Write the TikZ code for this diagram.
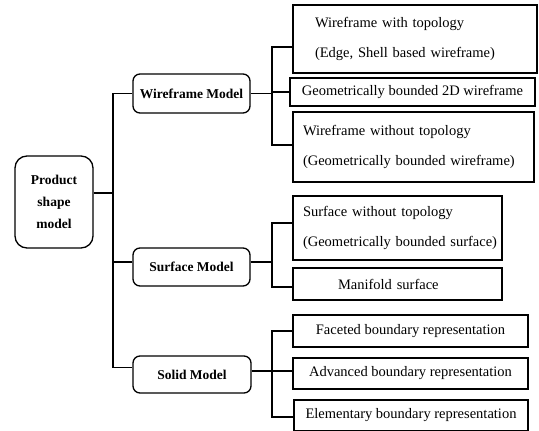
\documentclass[tikz,border=0pt]{standalone}
\usepackage{fontspec}
\setmainfont{Liberation Serif}
\begin{document}
\begin{tikzpicture}[x=1pt,y=-1pt,
  model/.style={draw, line width=1.3pt, rounded corners=7pt, inner sep=0pt,
    font=\fontsize{13.5}{22}\selectfont\bfseries, align=center},
  leaf/.style={draw, line width=1.2pt, inner ysep=0pt,
    font=\fontsize{14.5}{30}\selectfont},
  link/.style={line width=1.3pt}]
\useasboundingbox (0,0) rectangle (539,431);

% root and the three model families
\node[model, rounded corners=12pt, minimum width=78pt, minimum height=92pt] (P) at (54,202) {Product\\shape\\model};
\node[model, minimum width=117pt, minimum height=39pt] (WM) at (191.5,93.5) {Wireframe Model};
\node[model, minimum width=117pt, minimum height=38pt] (SM) at (191.5,267) {Surface Model};
\node[model, minimum width=118pt, minimum height=37pt] (SoM) at (192,374.5) {Solid Model};

% wireframe variants
\node[leaf, minimum width=244pt, minimum height=68pt, inner xsep=22pt, text width=200pt, align=left] (W1) at (415,39)
  {Wireframe with topology\\(Edge, Shell based wireframe)};
\node[leaf, minimum width=245pt, minimum height=28pt, align=center] (W2) at (412.5,92) {Geometrically bounded 2D wireframe};
\node[leaf, minimum width=241pt, minimum height=70pt, inner xsep=10pt, text width=221pt, align=left] (W3) at (413.5,147)
  {Wireframe without topology\\(Geometrically bounded wireframe)};

% surface variants
\node[leaf, minimum width=209pt, minimum height=64pt, inner xsep=10pt, text width=189pt, align=left] (S1) at (397.5,228)
  {\mbox{Surface without topology}\\\mbox{(Geometrically bounded surface)}};
\node[leaf, minimum width=209pt, minimum height=32pt, inner xsep=45pt, text width=119pt, align=left] (S2) at (397.5,284) {Manifold surface};

% solid variants
\node[leaf, minimum width=235pt, minimum height=32pt, align=center] (C) at (410.5,331) {Faceted boundary representation};
\node[leaf, minimum width=235pt, minimum height=31pt, align=center] (D) at (410.5,373.5) {Advanced boundary representation};
\node[leaf, minimum width=234pt, minimum height=31pt, align=center] (E) at (411,415.5) {Elementary boundary representation};

% trunk and branch columns
\coordinate (T) at (113,0);
\coordinate (B) at (272,0);

\draw[link] ([yshift=9pt]P.east) -- ([yshift=9pt]P.east -| T);
\draw[link] (WM.west) -- (WM.west -| T) |- ([yshift=7pt]SoM.west);
\draw[link] ([yshift=5pt]SM.west) -- ([yshift=5pt]SM.west -| T);

% wireframe branch
\draw[link] (WM.east) -- (WM.east -| B);
\draw[link] ([yshift=-8pt]W1.west) -- ([yshift=-8pt]W1.west -| B) -- ([yshift=2pt]W3.west -| B) -- ([yshift=2pt]W3.west);
\draw[link] (W2.west -| B) -- (W2.west);

% surface branch
\draw[link] ([yshift=5pt]SM.east) -- ([yshift=5pt]SM.east -| B);
\draw[link] ([yshift=5pt]S1.west) -- ([yshift=5pt]S1.west -| B) -- ([yshift=-3pt]S2.west -| B) -- ([yshift=-3pt]S2.west);

% solid branch
\draw[link] ([yshift=3.5pt]SoM.east) -- ([yshift=3.5pt]SoM.east -| B);
\draw[link] (C.west) -- (C.west -| B) -- ([yshift=-1.5pt]E.west -| B) -- ([yshift=-1.5pt]E.west);
\draw[link] ([yshift=2.5pt]D.west -| B) -- ([yshift=2.5pt]D.west);
\end{tikzpicture}
\end{document}
